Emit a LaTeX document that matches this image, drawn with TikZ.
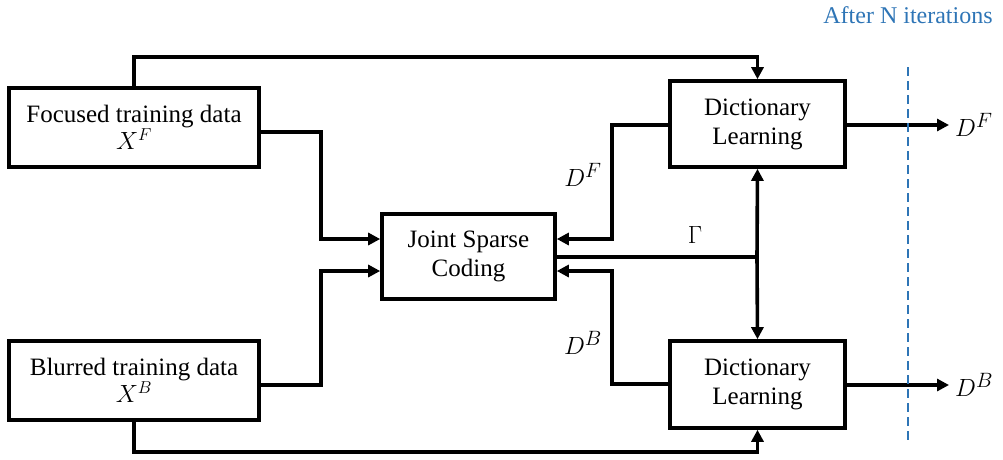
\documentclass[tikz,border=0pt]{standalone}
\usepackage{fontspec}
\setmainfont{Liberation Serif}
\usetikzlibrary{arrows.meta,calc}
\definecolor{iterblue}{RGB}{46,117,182}
\begin{document}
\begin{tikzpicture}[x=1pt,y=-1pt,
  box/.style={draw,line width=3.6pt,align=center,inner sep=0pt,font=\fontsize{25}{29}\selectfont},
  conn/.style={line width=3.6pt},
  arr/.style={conn,-{Triangle[length=12pt,width=12pt]}},
  lab/.style={font=\fontsize{30}{32}\selectfont,inner sep=0pt}]
\useasboundingbox (0,0) rectangle (1003,459);
\node[box,minimum width=250pt,minimum height=79pt] (fd) at (134,127.5) {Focused training data\\[-2pt]$X^F$};
\node[box,minimum width=250pt,minimum height=79pt] (bd) at (134,380.5) {Blurred training data\\[-2pt]$X^B$};
\node[box,minimum width=173pt,minimum height=85pt] (jsc) at (468.5,256.5) {Joint Sparse\\Coding};
\node[box,minimum width=175pt,minimum height=86pt] (dl1) at (757.5,124) {Dictionary\\Learning};
\node[box,minimum width=175pt,minimum height=87pt] (dl2) at (757.5,384.5) {Dictionary\\Learning};
\node[lab,anchor=west] (outF) at (955,125) {$D^F$};
\node[lab,anchor=west] (outB) at (955,385) {$D^B$};
\node[lab] (lDF) at (583,175) {$D^F$};
\node[lab] (lDB) at (583,343) {$D^B$};
\node[lab] (gam) at (695,235) {$\Gamma$};
\node[font=\fontsize{24}{26}\selectfont,text=iterblue,inner sep=0pt] (iter) at (908,15) {After N iterations};
\coordinate (g) at (757,257);
% inputs
\draw[arr] (fd.north) -- (fd.north |- 0,57) -| (dl1.north);
\draw[arr] (fd.east |- 0,132) -- (321,132) |- (jsc.west |- 0,239);
\draw[arr] (bd.east |- 0,385) -- (321,385) |- (jsc.west |- 0,271);
\draw[arr] (bd.south) -- (bd.south |- 0,452) -| (dl2.south);
% feedback
\draw[arr] (dl1.west |- 0,125) -- (612,125) |- (jsc.east |- 0,239);
\draw[arr] (dl2.west |- 0,384) -- (612,384) |- (jsc.east |- 0,271);
% gamma
\draw[conn] (jsc.east |- g) -- (g);
\draw[arr] (g) -- (dl1.south);
\draw[arr] (g) -- (dl2.north);
% outputs
\draw[arr] (dl1.east |- outF) -- ([xshift=-6pt]outF.west);
\draw[arr] (dl2.east |- outB) -- ([xshift=-6pt]outB.west);
% dashed line
\draw[iterblue,line width=2.2pt,dash pattern=on 9pt off 5pt] (908,67) -- (908,443);
\end{tikzpicture}
\end{document}
